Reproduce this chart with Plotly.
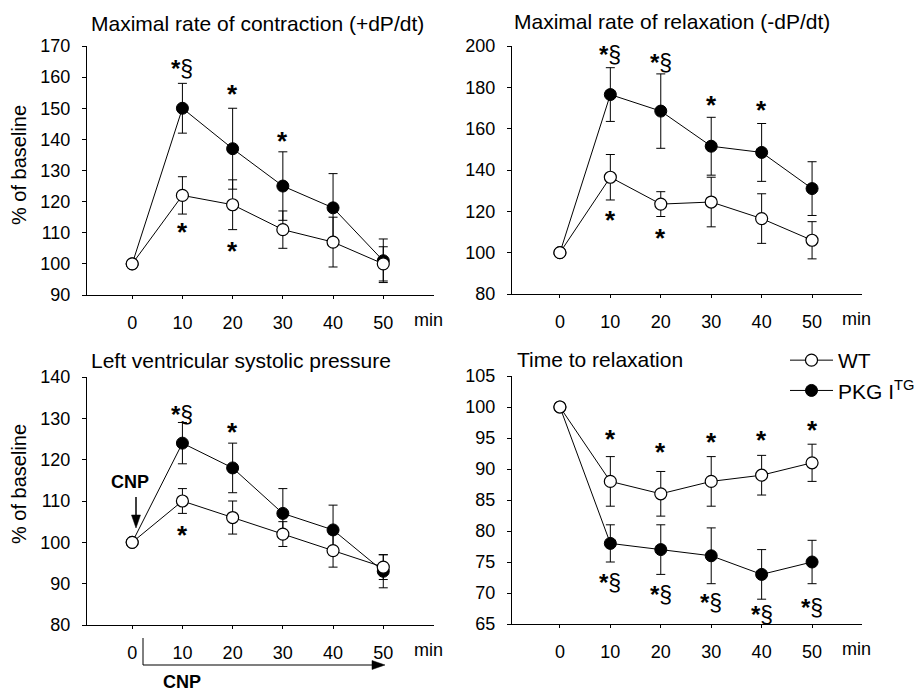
import plotly.graph_objects as go

# ---------------- data ----------------
minutes = [0, 10, 20, 30, 40, 50]

# Panel 1: Maximal rate of contraction (+dP/dt)
p1_wt = [100, 122, 119, 111, 107, 100]
p1_wt_err = [0, 6, 8, 6, 8, 5.5]
p1_pkg = [100, 150, 137, 125, 118, 101]
p1_pkg_err = [0, 8, 13, 11, 11, 7]

# Panel 2: Maximal rate of relaxation (-dP/dt)
p2_wt = [100, 136.5, 123.5, 124.5, 116.5, 106]
p2_wt_err = [0, 11, 6, 12, 12, 9]
p2_pkg = [100, 176.5, 168.5, 151.5, 148.5, 131]
p2_pkg_err = [0, 13, 18, 14, 14, 13]

# Panel 3: Left ventricular systolic pressure
p3_wt = [100, 110, 106, 102, 98, 94]
p3_wt_err = [0, 3, 4, 3, 4, 3]
p3_pkg = [100, 124, 118, 107, 103, 93]
p3_pkg_err = [0, 5, 6, 6, 6, 4]

# Panel 4: Time to relaxation
p4_wt = [100, 88, 86, 88, 89, 91]
p4_wt_err = [0, 4, 3.6, 4, 3.2, 3]
p4_pkg = [100, 78, 77, 76, 73, 75]
p4_pkg_err = [0, 3, 4, 4.5, 4, 3.5]

# significance labels: (minute, y, text)
sig = {
    1: [(10, 162.7, "*§"), (20, 155.6, "*"), (30, 140.6, "*"), (10, 111.2, "*"), (20, 105.2, "*")],
    2: [(10, 196.1, "*§"), (20, 191.9, "*§"), (30, 173.1, "*"), (40, 170.3, "*"),
        (10, 117.4, "*"), (20, 108.4, "*")],
    3: [(10, 131.0, "*§"), (20, 127.3, "*"), (10, 102.6, "*")],
    4: [(10, 95.3, "*"), (20, 93.2, "*"), (30, 94.8, "*"), (40, 95.2, "*"), (50, 96.8, "*"),
        (10, 71.7, "*§"), (20, 69.7, "*§"), (30, 68.5, "*§"), (40, 66.5, "*§"), (50, 67.6, "*§")],
}

titles = ["Maximal rate of contraction (+dP/dt)", "Maximal rate of relaxation (-dP/dt)",
          "Left ventricular systolic pressure", "Time to relaxation"]
y_ranges = [[90, 170], [80, 200], [80, 140], [65, 105]]
y_dticks = [10, 20, 10, 5]
x_ranges = [[-9, 60.1], [-9.5, 59.9], [-9, 60.1], [-9.5, 59.9]]

W, H = 920, 692
def px(x):
    return x / W
def py(y):
    return 1 - y / H

# panel boxes in pixels: (left, right, top, bottom)
boxes = [(87, 434, 46, 295), (512, 862, 46, 294), (87, 434, 377, 625), (512, 862, 376, 624)]

FONT = "Arial, Liberation Sans, sans-serif"
fig = go.Figure()

panels = [(p1_wt, p1_wt_err, p1_pkg, p1_pkg_err), (p2_wt, p2_wt_err, p2_pkg, p2_pkg_err),
          (p3_wt, p3_wt_err, p3_pkg, p3_pkg_err), (p4_wt, p4_wt_err, p4_pkg, p4_pkg_err)]

for i, (wt, wte, pkg, pkge) in enumerate(panels):
    n = i + 1
    xa = "x" if n == 1 else f"x{n}"
    ya = "y" if n == 1 else f"y{n}"
    show = (n == 4)
    fig.add_trace(go.Scatter(
        x=minutes, y=pkg, xaxis=xa, yaxis=ya, mode="lines+markers",
        name="PKG I<sup>TG</sup>", showlegend=show, legendrank=2,
        line=dict(color="black", width=1),
        marker=dict(symbol="circle", size=12, color="black", line=dict(color="black", width=1)),
        error_y=dict(type="data", array=pkge, visible=True, color="black", thickness=1, width=4.5),
        cliponaxis=False))
    fig.add_trace(go.Scatter(
        x=minutes, y=wt, xaxis=xa, yaxis=ya, mode="lines+markers",
        name="WT", showlegend=show, legendrank=1,
        line=dict(color="black", width=1),
        marker=dict(symbol="circle", size=12, color="white", line=dict(color="black", width=1.2)),
        error_y=dict(type="data", array=wte, visible=True, color="black", thickness=1, width=4.5),
        cliponaxis=False))

layout = dict(
    template="none",
    width=W, height=H, margin=dict(l=0, r=0, t=0, b=0, pad=0, autoexpand=False),
    paper_bgcolor="white", plot_bgcolor="white",
    font=dict(family=FONT, color="black", size=18),
    showlegend=True,
    legend=dict(x=1, y=py(340), xanchor="right", yanchor="top",
                font=dict(size=21, family=FONT), bgcolor="rgba(0,0,0,0)",
                borderwidth=0, tracegroupgap=0, itemwidth=43),
)

AST = "<span style='font-size:24px'><b>*</b></span>"
annotations = []
for i in range(4):
    n = i + 1
    l, r, t, b = boxes[i]
    xkey = "xaxis" if n == 1 else f"xaxis{n}"
    ykey = "yaxis" if n == 1 else f"yaxis{n}"
    xa = "x" if n == 1 else f"x{n}"
    ya = "y" if n == 1 else f"y{n}"
    layout[xkey] = dict(domain=[px(l), px(r)], anchor=ya, range=x_ranges[i],
                        tickvals=minutes, ticktext=[str(m) for m in minutes],
                        showline=True, linecolor="black", linewidth=1,
                        ticks="outside", ticklen=3, tickcolor="black",
                        showgrid=False, zeroline=False, ticklabelstandoff=8,
                        automargin=False, tickfont=dict(size=18))
    layout[ykey] = dict(domain=[py(b), py(t)], anchor=xa, range=y_ranges[i],
                        dtick=y_dticks[i], tick0=y_ranges[i][0],
                        showline=True, linecolor="black", linewidth=1,
                        ticks="outside", ticklen=4, tickcolor="black",
                        showgrid=False, zeroline=False, ticklabelstandoff=8,
                        automargin=False, tickfont=dict(size=18))
    # significance marks
    for (m, yv, txt) in sig[n]:
        if txt == "*":
            text, ys, fs = "<b>*</b>", -3, 26
        else:
            text, ys, fs = AST + "§", 0, 23
        annotations.append(dict(x=m, y=yv, xref=xa, yref=ya, text=text, showarrow=False,
                                xanchor="center", yanchor="middle", yshift=ys,
                                font=dict(size=fs, family=FONT)))
    # min labels
    annotations.append(dict(x=px(r - 6), y=py(b + 25), xref="paper", yref="paper", text="min",
                            showarrow=False, xanchor="center", yanchor="middle",
                            font=dict(size=18, family=FONT)))

# titles
annotations += [
    dict(x=px(257), y=py(23), xref="paper", yref="paper", text=titles[0], showarrow=False,
         xanchor="center", yanchor="middle", font=dict(size=21, family=FONT)),
    dict(x=px(672), y=py(22), xref="paper", yref="paper", text=titles[1], showarrow=False,
         xanchor="center", yanchor="middle", font=dict(size=21, family=FONT)),
    dict(x=px(241), y=py(360), xref="paper", yref="paper", text=titles[2], showarrow=False,
         xanchor="center", yanchor="middle", font=dict(size=21, family=FONT)),
    dict(x=px(515), y=py(359), xref="paper", yref="paper", text=titles[3], showarrow=False,
         xanchor="left", yanchor="middle", font=dict(size=21, family=FONT)),
]
# y axis labels
for cy in (165, 484):
    annotations.append(dict(x=px(19), y=py(cy), xref="paper", yref="paper", text="% of baseline",
                            showarrow=False, textangle=-90, xanchor="center", yanchor="middle",
                            font=dict(size=20, family=FONT)))
# CNP labels
annotations.append(dict(x=px(130), y=py(482), xref="paper", yref="paper", text="<b>CNP</b>",
                        showarrow=False, xanchor="center", yanchor="middle",
                        font=dict(size=18, family=FONT)))
annotations.append(dict(x=px(182), y=py(682), xref="paper", yref="paper", text="<b>CNP</b>",
                        showarrow=False, xanchor="center", yanchor="middle",
                        font=dict(size=18, family=FONT)))
layout["annotations"] = annotations

def ppath(points):
    return "M " + " L ".join(f"{px(a):.5f},{py(b):.5f}" for a, b in points) + " Z"

line_style = dict(color="black", width=1)
layout["shapes"] = [
    # top CNP arrow
    dict(type="line", xref="paper", yref="paper", x0=px(136), x1=px(136), y0=py(497), y1=py(517),
         line=dict(color="black", width=1.5)),
    dict(type="path", xref="paper", yref="paper", path=ppath([(131.5, 515), (140.5, 515), (136, 528)]),
         fillcolor="black", line=dict(color="black", width=0.5)),
    # bottom CNP bracket
    dict(type="line", xref="paper", yref="paper", x0=px(143), x1=px(143), y0=py(638), y1=py(665),
         line=line_style),
    dict(type="line", xref="paper", yref="paper", x0=px(143), x1=px(374), y0=py(665), y1=py(665),
         line=dict(color="black", width=1.2)),
    dict(type="path", xref="paper", yref="paper", path=ppath([(372, 660.5), (372, 669.5), (385, 665)]),
         fillcolor="black", line=dict(color="black", width=0.5)),
]

fig.update_layout(**layout)
fig.write_html("out.html", config={"displayModeBar": False},
               post_script="document.body.style.margin='0';document.body.style.overflow='hidden';")
